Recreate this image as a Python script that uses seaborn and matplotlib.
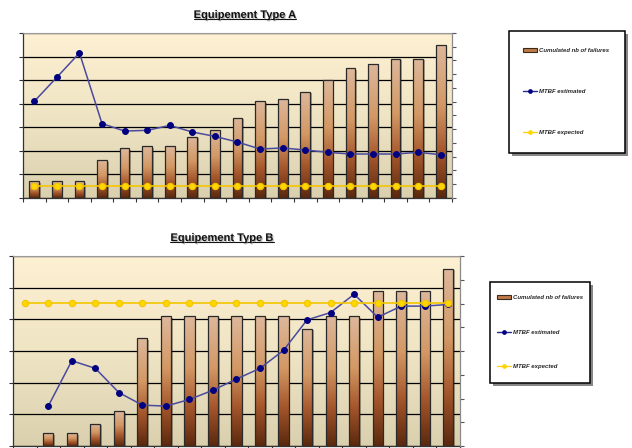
import numpy as np
import pandas as pd
import matplotlib
matplotlib.use("Agg")
import matplotlib.pyplot as plt
import matplotlib.transforms as mtransforms
import matplotlib.patheffects as pe
from matplotlib.colors import LinearSegmentedColormap
from matplotlib.patches import Patch, Rectangle
from matplotlib.lines import Line2D
import seaborn as sns

# data (no axis labels shown, units are arbitrary)
periods = list(range(1, 20))

failures_a = [7, 7, 7, 16, 21, 22, 22, 26, 29, 34, 41, 42, 45, 50, 55, 57, 59, 59, 65]
mtbf_est_a = [703, 878, 1055, 541, 487, 492, 528, 480, 448, 407, 356, 364, 349, 332, 320, 320, 320, 332, 315]
mtbf_exp_a = [90] * 19

failures_b = [0, 4, 4, 7, 11, 34, 41, 41, 41, 41, 41, 41, 37, 41, 41, 49, 49, 49, 56]
mtbf_est_b = [np.nan, 168, 359, 327, 225, 172, 168, 196, 235, 282, 327, 403, 531, 562, 639, 542, 589, 589, 596]
mtbf_exp_b = [604] * 19

titles = ["Equipement Type A", "Equipement Type B"]
legend_labels = ["Cumulated nb of failures", "MTBF estimated", "MTBF expected"]

sns.set_theme(style="white")
plt.rcParams["font.family"] = ["Liberation Sans", "DejaVu Sans"]

bg_cmap = LinearSegmentedColormap.from_list("bg", ["#DBD0AE", "#EFE4C4", "#FEF1D3"])
bar_cmap = LinearSegmentedColormap.from_list(
    "bar", [(0, "#5A280E"), (0.3, "#A5562B"), (0.6, "#D39864"), (1, "#DDB89C")])
grad = np.linspace(0, 1, 256).reshape(-1, 1)

W, H = 632, 448
fig = plt.figure(figsize=(W / 100, H / 100), dpi=100)


def px_box(x0, y0, x1, y1):
    # pixel box (top-left origin) -> figure fraction rect
    return [x0 / W, 1 - y1 / H, (x1 - x0) / W, (y1 - y0) / H]


def draw_panel(ax, failures, est, exp, left_max, right_max):
    df = pd.DataFrame({"period": periods, "failures": failures,
                       "est": est, "exp": exp, "pos": np.arange(len(periods))})

    ax.imshow(grad, origin="lower", extent=[0, 1, 0, 1], transform=ax.transAxes,
              aspect="auto", cmap=bg_cmap, zorder=0)
    sns.barplot(data=df, x="period", y="failures", ax=ax, width=0.43, color="#C07A48")

    shadow_tr = mtransforms.offset_copy(ax.transData, fig=fig, x=1.2, y=-1.0, units="points")
    for p in list(ax.patches):
        x0, w, h = p.get_x(), p.get_width(), p.get_height()
        if h <= 0:
            p.set_visible(False)
            continue
        p.set_facecolor("none")
        p.set_edgecolor("#2a2a2a")
        p.set_linewidth(0.9)
        p.set_zorder(3)
        ax.add_patch(Rectangle((x0, 0), w, h, transform=shadow_tr, facecolor="black",
                               alpha=0.3, edgecolor="none", zorder=2.2))
        im = ax.imshow(grad, origin="lower", extent=[x0, x0 + w, 0, h], aspect="auto",
                       cmap=bar_cmap, zorder=2.5)
        im.set_clip_path(p)

    ax.set_axisbelow(True)
    ax.yaxis.grid(True, color="black", linewidth=0.9)
    ax.xaxis.grid(False)
    ax.set_xlim(-0.5, len(periods) - 0.5)
    ax.set_ylim(0, left_max)
    ax.set_yticks(np.arange(0, left_max + 1, 10))
    ax.set_xticks(np.arange(-0.5, len(periods), 1))
    ax.set_xlabel("")
    ax.set_ylabel("")
    ax.tick_params(left=True, bottom=True, labelleft=False, labelbottom=False,
                   direction="out", length=3, width=0.8, color="#333333")
    for s in ["left", "bottom"]:
        ax.spines[s].set_color("#333333")
        ax.spines[s].set_linewidth(0.9)
    ax.spines["top"].set_color("#9a9a9a")
    ax.spines["top"].set_linewidth(0.8)
    ax.spines["right"].set_visible(False)

    ax2 = ax.twinx()
    sns.lineplot(data=df, x="pos", y="est", ax=ax2, color="#4A4A9E", linewidth=1.1,
                 marker="o", markersize=4.2, markerfacecolor="#000080",
                 markeredgecolor="#000080", zorder=5)
    sns.lineplot(data=df, x="pos", y="exp", ax=ax2, color="#F4C600", linewidth=1.2,
                 marker="o", markersize=4.6, markerfacecolor="#FFD700",
                 markeredgecolor="#F2C400", zorder=6)
    ax2.grid(False)
    ax2.set_xlim(-0.5, len(periods) - 0.5)
    ax2.set_ylim(0, right_max)
    ax2.set_yticks(np.arange(0, right_max + 1, 100))
    ax2.set_ylabel("")
    ax2.tick_params(right=True, labelright=False, direction="out", length=3,
                    width=0.8, color="#555555")
    for s in ["left", "bottom", "top"]:
        ax2.spines[s].set_visible(False)
    ax2.spines["right"].set_color("#8a8a8a")
    ax2.spines["right"].set_linewidth(0.9)


ax_a = fig.add_axes(px_box(23, 33, 452, 198))
draw_panel(ax_a, failures_a, mtbf_est_a, mtbf_exp_a, 70, 1200)
ax_b = fig.add_axes(px_box(13, 256, 460, 446))
draw_panel(ax_b, failures_b, mtbf_est_b, mtbf_exp_b, 60, 800)

# titles with shadow, underlined afterwards
title_pos = [(245, 15), (222, 238)]
title_texts = []
for t, (tx, ty) in zip(titles, title_pos):
    title_texts.append(fig.text(tx / W, 1 - ty / H, t, ha="center", va="center",
                                fontsize=8, fontweight="bold", color="#111111",
                                path_effects=[pe.SimplePatchShadow(offset=(0.8, -0.8),
                                                                   shadow_rgbFace="#888888",
                                                                   alpha=0.6),
                                              pe.Normal()]))

# legends: frame drawn by hand so the padding matches
handles = [Patch(facecolor="#C07A48", edgecolor="#3a2a1a", linewidth=0.8),
           Line2D([], [], color="#2A2A8A", linewidth=1, marker="o", markersize=2.4,
                  markerfacecolor="#000080", markeredgecolor="#000080"),
           Line2D([], [], color="#FFD21F", linewidth=1, marker="o", markersize=2.4,
                  markerfacecolor="#FFD700", markeredgecolor="#FFD700")]

legend_boxes = [((509, 31, 625, 153), (523, 48), 6.0),
                ((490, 282, 590, 383), (497, 295), 4.9)]
for (x0, y0, x1, y1), (lx, ly), spacing in legend_boxes:
    fig.add_artist(Rectangle((x0 / W, 1 - y1 / H), (x1 - x0) / W, (y1 - y0) / H,
                             transform=fig.transFigure, facecolor="white",
                             edgecolor="black", linewidth=1.1, zorder=1,
                             path_effects=[pe.SimplePatchShadow(offset=(2.2, -2.2),
                                                                shadow_rgbFace="#555555",
                                                                alpha=0.7),
                                           pe.Normal()]))
    leg = fig.legend(handles, legend_labels, loc="upper left",
                     bbox_to_anchor=(lx / W, 1 - ly / H), bbox_transform=fig.transFigure,
                     prop=dict(size=4.3, style="italic", weight="bold"),
                     frameon=False, borderpad=0, borderaxespad=0,
                     labelspacing=spacing, handlelength=2.4, handletextpad=0.3)
    leg.set_zorder(2)

fig.canvas.draw()
renderer = fig.canvas.get_renderer()
inv = fig.transFigure.inverted()
for t in title_texts:
    bb = t.get_window_extent(renderer)
    (fx0, fy), (fx1, _) = inv.transform([(bb.x0, bb.y0 + 1), (bb.x1, bb.y0 + 1)])
    fig.add_artist(Line2D([fx0, fx1], [fy, fy], transform=fig.transFigure,
                          color="#111111", linewidth=0.8))

fig.savefig("out.png", dpi=100)
